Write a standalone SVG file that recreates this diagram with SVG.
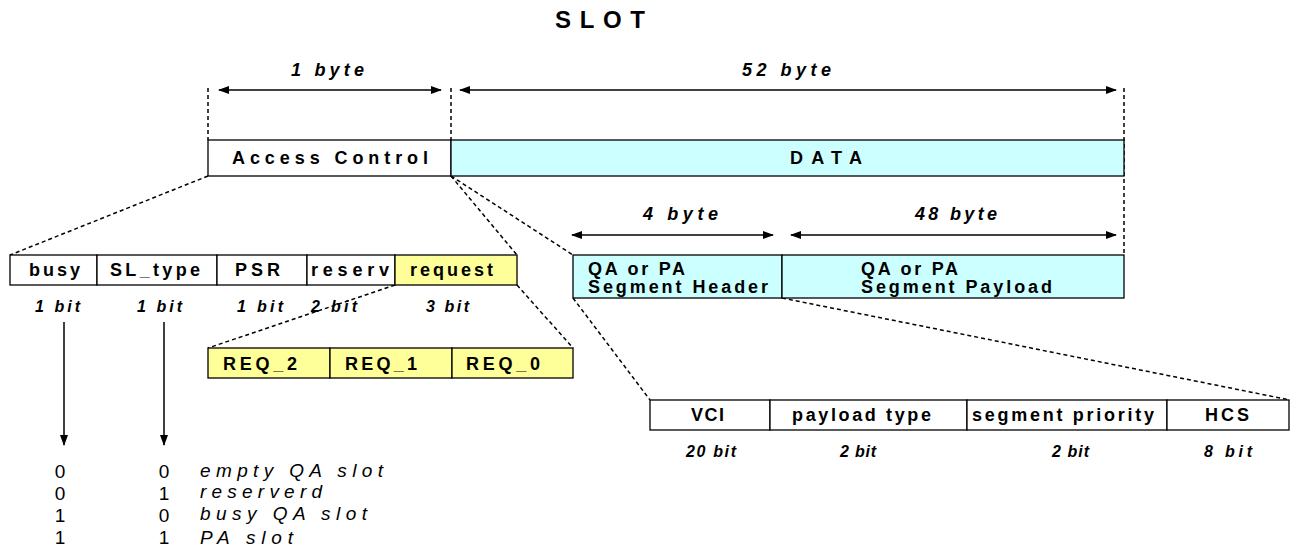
<svg xmlns="http://www.w3.org/2000/svg" width="1290" height="548" viewBox="0 0 1290 548">
<defs>
<marker id="ah" markerWidth="11" markerHeight="8" refX="10" refY="4" orient="auto-start-reverse" markerUnits="userSpaceOnUse">
<path d="M0,0 L11,4 L0,8 Z" fill="#000"/>
</marker>
<style>
text{font-family:"Liberation Sans",Arial,sans-serif;fill:#000}
.bx{stroke:#000;stroke-width:1.3}
.w{fill:#fff}.c{fill:#ccffff}.y{fill:#ffff99}
.t{font-size:18px;font-weight:bold}
.lab{font-size:18px;font-weight:bold;font-style:italic}
.bit{font-size:16px;font-weight:bold;font-style:italic}
.dash{stroke:#000;stroke-width:1.5;stroke-dasharray:4,3;fill:none}
.arr{stroke:#000;stroke-width:1.5;fill:none}
.num{font-size:19px;text-anchor:middle}
.it{font-size:19px;font-style:italic}
</style>
</defs>
<text x="555" y="28" textLength="90" lengthAdjust="spacing" style="font-size:24px;font-weight:bold">SLOT</text>

<g id="connectors">
<line class="dash" x1="208" y1="88" x2="208" y2="140"/>
<line class="dash" x1="451" y1="88" x2="451" y2="140"/>
<line class="dash" x1="1124" y1="88" x2="1124" y2="255"/>
<line class="arr" x1="219" y1="90" x2="441" y2="90" marker-start="url(#ah)" marker-end="url(#ah)"/>
<line class="arr" x1="460" y1="90" x2="1116" y2="90" marker-start="url(#ah)" marker-end="url(#ah)"/>
<line class="arr" x1="572" y1="235" x2="773" y2="235" marker-start="url(#ah)" marker-end="url(#ah)"/>
<line class="arr" x1="791" y1="235" x2="1116" y2="235" marker-start="url(#ah)" marker-end="url(#ah)"/>
<line class="dash" x1="208" y1="176" x2="10" y2="255"/>
<line class="dash" x1="451" y1="176" x2="517" y2="255"/>
<line class="dash" x1="451" y1="176" x2="573" y2="255"/>
<line class="dash" x1="395" y1="285" x2="208" y2="348"/>
<line class="dash" x1="517" y1="285" x2="573" y2="348"/>
<line class="dash" x1="573" y1="298" x2="650" y2="400"/>
<line class="dash" x1="782" y1="298" x2="1290" y2="400"/>
<line class="arr" x1="64" y1="322" x2="64" y2="445" marker-end="url(#ah)"/>
<line class="arr" x1="164" y1="322" x2="164" y2="445" marker-end="url(#ah)"/>
</g>

<g id="size-labels">
<text class="lab" x="291" y="76" textLength="73" lengthAdjust="spacing">1 byte</text>
<text class="lab" x="742" y="76" textLength="89" lengthAdjust="spacing">52 byte</text>
<text class="lab" x="643" y="220" textLength="75" lengthAdjust="spacing">4 byte</text>
<text class="lab" x="915" y="220" textLength="82" lengthAdjust="spacing">48 byte</text>
</g>

<g id="access-control"><rect class="bx w" x="208" y="140" width="243" height="36"/><text class="t" x="232" y="164" textLength="196" lengthAdjust="spacing">Access Control</text></g>
<g id="data"><rect class="bx c" x="451" y="140" width="673" height="36"/><text class="t" x="790" y="164" textLength="72" lengthAdjust="spacing">DATA</text></g>

<g id="busy"><rect class="bx w" x="10" y="255" width="87" height="30"/><text class="t" x="29" y="276" textLength="51" lengthAdjust="spacing">busy</text></g>
<g id="sl-type"><rect class="bx w" x="97" y="255" width="120" height="30"/><text class="t" x="110" y="276" textLength="90" lengthAdjust="spacing">SL_type</text></g>
<g id="psr"><rect class="bx w" x="217" y="255" width="90" height="30"/><text class="t" x="235" y="276" textLength="45" lengthAdjust="spacing">PSR</text></g>
<g id="reserv"><rect class="bx w" x="307" y="255" width="88" height="30"/><text class="t" x="311" y="276" textLength="78" lengthAdjust="spacing">reserv</text></g>
<g id="request"><rect class="bx y" x="395" y="255" width="122" height="30"/><text class="t" x="410" y="276" textLength="83" lengthAdjust="spacing">request</text></g>

<g id="bit-labels-1">
<text class="bit" x="35" y="312" textLength="45" lengthAdjust="spacing">1 bit</text>
<text class="bit" x="137" y="312" textLength="45" lengthAdjust="spacing">1 bit</text>
<text class="bit" x="237" y="312" textLength="46" lengthAdjust="spacing">1 bit</text>
<text class="bit" x="311" y="312" textLength="46" lengthAdjust="spacing">2 bit</text>
<text class="bit" x="426" y="312" textLength="43" lengthAdjust="spacing">3 bit</text>
</g>

<g id="req2"><rect class="bx y" x="208" y="348" width="122" height="30"/><text class="t" x="223" y="370" textLength="74" lengthAdjust="spacing">REQ_2</text></g>
<g id="req1"><rect class="bx y" x="330" y="348" width="122" height="30"/><text class="t" x="345" y="370" textLength="72" lengthAdjust="spacing">REQ_1</text></g>
<g id="req0"><rect class="bx y" x="452" y="348" width="121" height="30"/><text class="t" x="466" y="370" textLength="74" lengthAdjust="spacing">REQ_0</text></g>

<g id="seg-header"><rect class="bx c" x="573" y="255" width="209" height="43"/><text class="t" x="588" y="275" textLength="97" lengthAdjust="spacing">QA or PA</text><text class="t" x="588" y="293" textLength="180" lengthAdjust="spacing">Segment Header</text></g>
<g id="seg-payload"><rect class="bx c" x="782" y="255" width="342" height="43"/><text class="t" x="861" y="275" textLength="97" lengthAdjust="spacing">QA or PA</text><text class="t" x="861" y="293" textLength="191" lengthAdjust="spacing">Segment Payload</text></g>

<g id="vci"><rect class="bx w" x="650" y="400" width="120" height="30"/><text class="t" x="691" y="421" textLength="33" lengthAdjust="spacing">VCI</text></g>
<g id="payload-type"><rect class="bx w" x="770" y="400" width="197" height="30"/><text class="t" x="792" y="421" textLength="139" lengthAdjust="spacing">payload type</text></g>
<g id="segment-priority"><rect class="bx w" x="967" y="400" width="200" height="30"/><text class="t" x="972" y="421" textLength="182" lengthAdjust="spacing">segment priority</text></g>
<g id="hcs"><rect class="bx w" x="1167" y="400" width="122" height="30"/><text class="t" x="1205" y="421" textLength="44" lengthAdjust="spacing">HCS</text></g>

<g id="bit-labels-2">
<text class="bit" x="686" y="457" textLength="50" lengthAdjust="spacing">20 bit</text>
<text class="bit" x="840" y="457" textLength="36" lengthAdjust="spacing">2 bit</text>
<text class="bit" x="1052" y="457" textLength="37" lengthAdjust="spacing">2 bit</text>
<text class="bit" x="1204" y="457" textLength="48" lengthAdjust="spacing">8 bit</text>
</g>

<g id="table">
<text class="num" x="60" y="478">0</text><text class="num" x="164" y="478">0</text><text class="it" x="200" y="477" textLength="183" lengthAdjust="spacing">empty QA slot</text>
<text class="num" x="60" y="500">0</text><text class="num" x="164" y="500">1</text><text class="it" x="200" y="498" textLength="122" lengthAdjust="spacing">reserverd</text>
<text class="num" x="60" y="522">1</text><text class="num" x="164" y="522">0</text><text class="it" x="200" y="520" textLength="167" lengthAdjust="spacing">busy QA slot</text>
<text class="num" x="60" y="544">1</text><text class="num" x="164" y="544">1</text><text class="it" x="200" y="544" textLength="93" lengthAdjust="spacing">PA slot</text>
</g>
</svg>
